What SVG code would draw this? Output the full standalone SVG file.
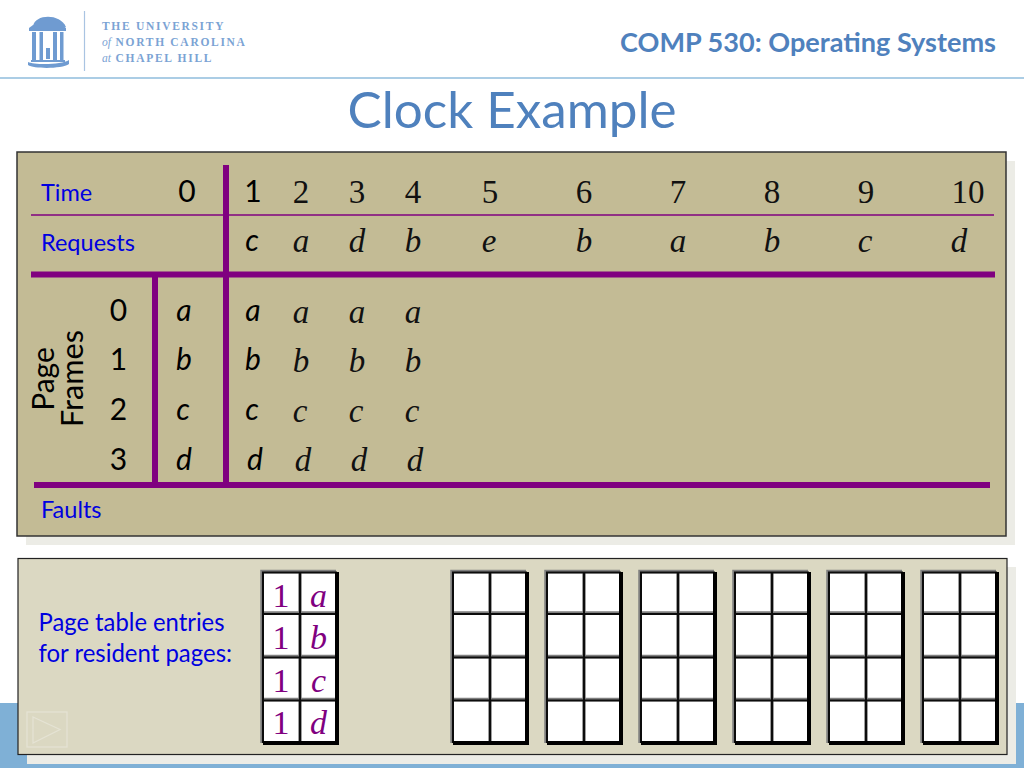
<svg xmlns="http://www.w3.org/2000/svg" width="1024" height="768" viewBox="0 0 1024 768">
<style>
.c{font-family:"Lato","Open Sans","Noto Sans",sans-serif}
.lab{font-family:"Lato","Open Sans",sans-serif;font-size:23.500px;fill:#0000e0}
.lab2{font-family:"Lato","Open Sans",sans-serif;font-size:24.500px;fill:#0000e0}
.sans{font-family:"Lato","Open Sans",sans-serif;font-size:30px;fill:#000;text-anchor:middle}
.si{font-family:"Lato","Open Sans",sans-serif;font-size:30px;font-style:italic;fill:#000;text-anchor:middle}
.ser{font-family:"Liberation Serif",serif;font-size:33px;fill:#111;text-anchor:middle}
.it{font-family:"Liberation Serif",serif;font-size:33px;font-style:italic;fill:#111;text-anchor:middle}
.pn{font-family:"Liberation Serif",serif;font-size:34px;fill:#800080;text-anchor:middle}
.pi{font-family:"Liberation Serif",serif;font-size:34px;font-style:italic;fill:#800080;text-anchor:middle}
.lg{font-family:"Liberation Serif",serif;font-size:11.500px;font-weight:bold;fill:#7ba3d4;letter-spacing:1.700px}
.lgi{font-style:italic;font-weight:normal;letter-spacing:0}
.thick{stroke:#800080;stroke-width:6;fill:none}
</style>
<defs>
<g id="grid">
<rect x="0" y="0" width="75" height="171" fill="#fff"/>
<path d="M0 41H75M0 84.500H75M0 127.500H75M38 0V171M0 171V-0.500H74" stroke="#7f7f7f" stroke-width="3.500" fill="none"/>
<path d="M0 42H75M0 85.500H75M0 128.500H75M38 0V171M1 171V0.500H75" stroke="#0c0c0c" stroke-width="2" fill="none"/>
<path d="M75 0V171H1" fill="none" stroke="#000" stroke-width="4"/>
</g>
</defs>
<rect width="1024" height="768" fill="#fff"/>
<rect x="0" y="703" width="1024" height="65" fill="#7fb0d6"/>
<path d="M0 78H1024" stroke="#8fbcdc" stroke-width="1.500"/>

<g id="logo">
<path d="M33 26C35 14 60 13 66 27Z" fill="#6f9bd1"/>
<path d="M29 28L33 25H62L66 28V31H29Z" fill="#6f9bd1"/>
<path d="M32 32h4v28h-4zM39.500 32h3.500v28h-3.500zM53 32h4v28h-4zM60 32h3.500v28h-3.500zM46 48h4v11h-4z" fill="#6f9bd1"/>
<path d="M31 60H65V62H31ZM28 62C34 65 62 65 69 60V64C62 69 34 69 28 65Z" fill="#6f9bd1"/>
<path d="M84.500 11V71" stroke="#a9c4e2" stroke-width="1.200"/>
<text class="lg" x="102" y="30">THE UNIVERSITY</text>
<text class="lg" x="102" y="46"><tspan class="lgi">of</tspan> NORTH CAROLINA</text>
<text class="lg" x="102" y="62"><tspan class="lgi">at</tspan> CHAPEL HILL</text>
</g>

<text class="c" x="996" y="52" text-anchor="end" font-size="27" font-weight="700" fill="#4f81bd" textLength="376" lengthAdjust="spacingAndGlyphs">COMP 530: Operating Systems</text>
<text class="c" x="512" y="128" text-anchor="middle" font-size="50" fill="#4f81bd" textLength="329" lengthAdjust="spacingAndGlyphs">Clock Example</text>

<g id="schedule-panel">
<rect x="26" y="161" width="989" height="384" fill="#ecece6"/>
<rect x="17" y="152" width="989" height="384" fill="#c3bb95" stroke="#333" stroke-width="1.500"/>
<text class="lab" x="41" y="201">Time</text>
<text class="lab" x="41" y="251">Requests</text>
<text class="lab" x="41" y="518">Faults</text>
<g id="connectors">
<path d="M31 215H994" stroke="#800080" stroke-width="1.500"/>
<path class="thick" d="M31 274.500H995M34 485H990M226 165V485M155 275V485"/>
</g>
<text class="sans" x="187" y="202">0</text>
<text class="sans" x="253" y="202">1</text>
<text class="ser" x="301" y="203">2</text><text class="ser" x="357" y="203">3</text><text class="ser" x="413" y="203">4</text><text class="ser" x="490" y="203">5</text><text class="ser" x="584" y="203">6</text><text class="ser" x="678" y="203">7</text><text class="ser" x="772" y="203">8</text><text class="ser" x="866" y="203">9</text><text class="ser" x="968" y="203">10</text>
<text class="si" x="252" y="251">c</text>
<text class="it" x="301" y="252">a</text><text class="it" x="357" y="252">d</text><text class="it" x="413" y="252">b</text><text class="it" x="489" y="252">e</text><text class="it" x="584" y="252">b</text><text class="it" x="678" y="252">a</text><text class="it" x="772" y="252">b</text><text class="it" x="865" y="252">c</text><text class="it" x="959" y="252">d</text>
<g id="frame-labels">
<text transform="translate(54 379) rotate(-90)" font-family="Lato,'Open Sans',sans-serif" font-size="30" text-anchor="middle">Page</text>
<text transform="translate(83 378.500) rotate(-90)" font-family="Lato,'Open Sans',sans-serif" font-size="30" text-anchor="middle" textLength="97" lengthAdjust="spacingAndGlyphs">Frames</text>
<text class="sans" x="118.500" y="321">0</text><text class="sans" x="118.500" y="370">1</text><text class="sans" x="118.500" y="420">2</text><text class="sans" x="118.500" y="470">3</text>
</g>
<text class="si" x="184" y="321">a</text><text class="si" x="184" y="370">b</text><text class="si" x="183" y="420">c</text><text class="si" x="184" y="470">d</text>
<text class="si" x="253" y="321">a</text><text class="si" x="253" y="370">b</text><text class="si" x="252" y="420">c</text><text class="si" x="255" y="470">d</text>
<text class="it" x="301" y="323">a</text><text class="it" x="357" y="323">a</text><text class="it" x="413" y="323">a</text>
<text class="it" x="301" y="372">b</text><text class="it" x="357" y="372">b</text><text class="it" x="413" y="372">b</text>
<text class="it" x="300" y="422">c</text><text class="it" x="356" y="422">c</text><text class="it" x="412" y="422">c</text>
<text class="it" x="303" y="471">d</text><text class="it" x="359" y="471">d</text><text class="it" x="415" y="471">d</text>
</g>

<g id="page-table-panel">
<rect x="27" y="567" width="989" height="197" fill="#ecece6"/>
<rect x="18" y="558.500" width="989" height="196" fill="#dbd8c2" stroke="#222" stroke-width="1.200"/>
<text class="lab2" x="38.500" y="631" textLength="186" lengthAdjust="spacingAndGlyphs">Page table entries</text>
<text class="lab2" x="38.500" y="662" textLength="193.500" lengthAdjust="spacingAndGlyphs">for resident pages:</text>
<g id="nav-icon" fill="none" stroke="#e5e3d4" stroke-width="1.200">
<rect x="27" y="712" width="40" height="35"/>
<path d="M33 717L60 729.500L33 743Z"/>
</g>
<use id="table-1" href="#grid" x="262" y="572"/>
<text class="pn" x="281" y="607">1</text><text class="pi" x="318.500" y="607">a</text>
<text class="pn" x="281" y="649">1</text><text class="pi" x="318.500" y="649">b</text>
<text class="pn" x="281" y="692">1</text><text class="pi" x="318.500" y="692">c</text>
<text class="pn" x="281" y="734">1</text><text class="pi" x="318.500" y="734">d</text>
<use id="table-2" href="#grid" x="452" y="572"/>
<use id="table-3" href="#grid" x="546" y="572"/>
<use id="table-4" href="#grid" x="640" y="572"/>
<use id="table-5" href="#grid" x="734" y="572"/>
<use id="table-6" href="#grid" x="828" y="572"/>
<use id="table-7" href="#grid" x="922" y="572"/>
</g>
</svg>
